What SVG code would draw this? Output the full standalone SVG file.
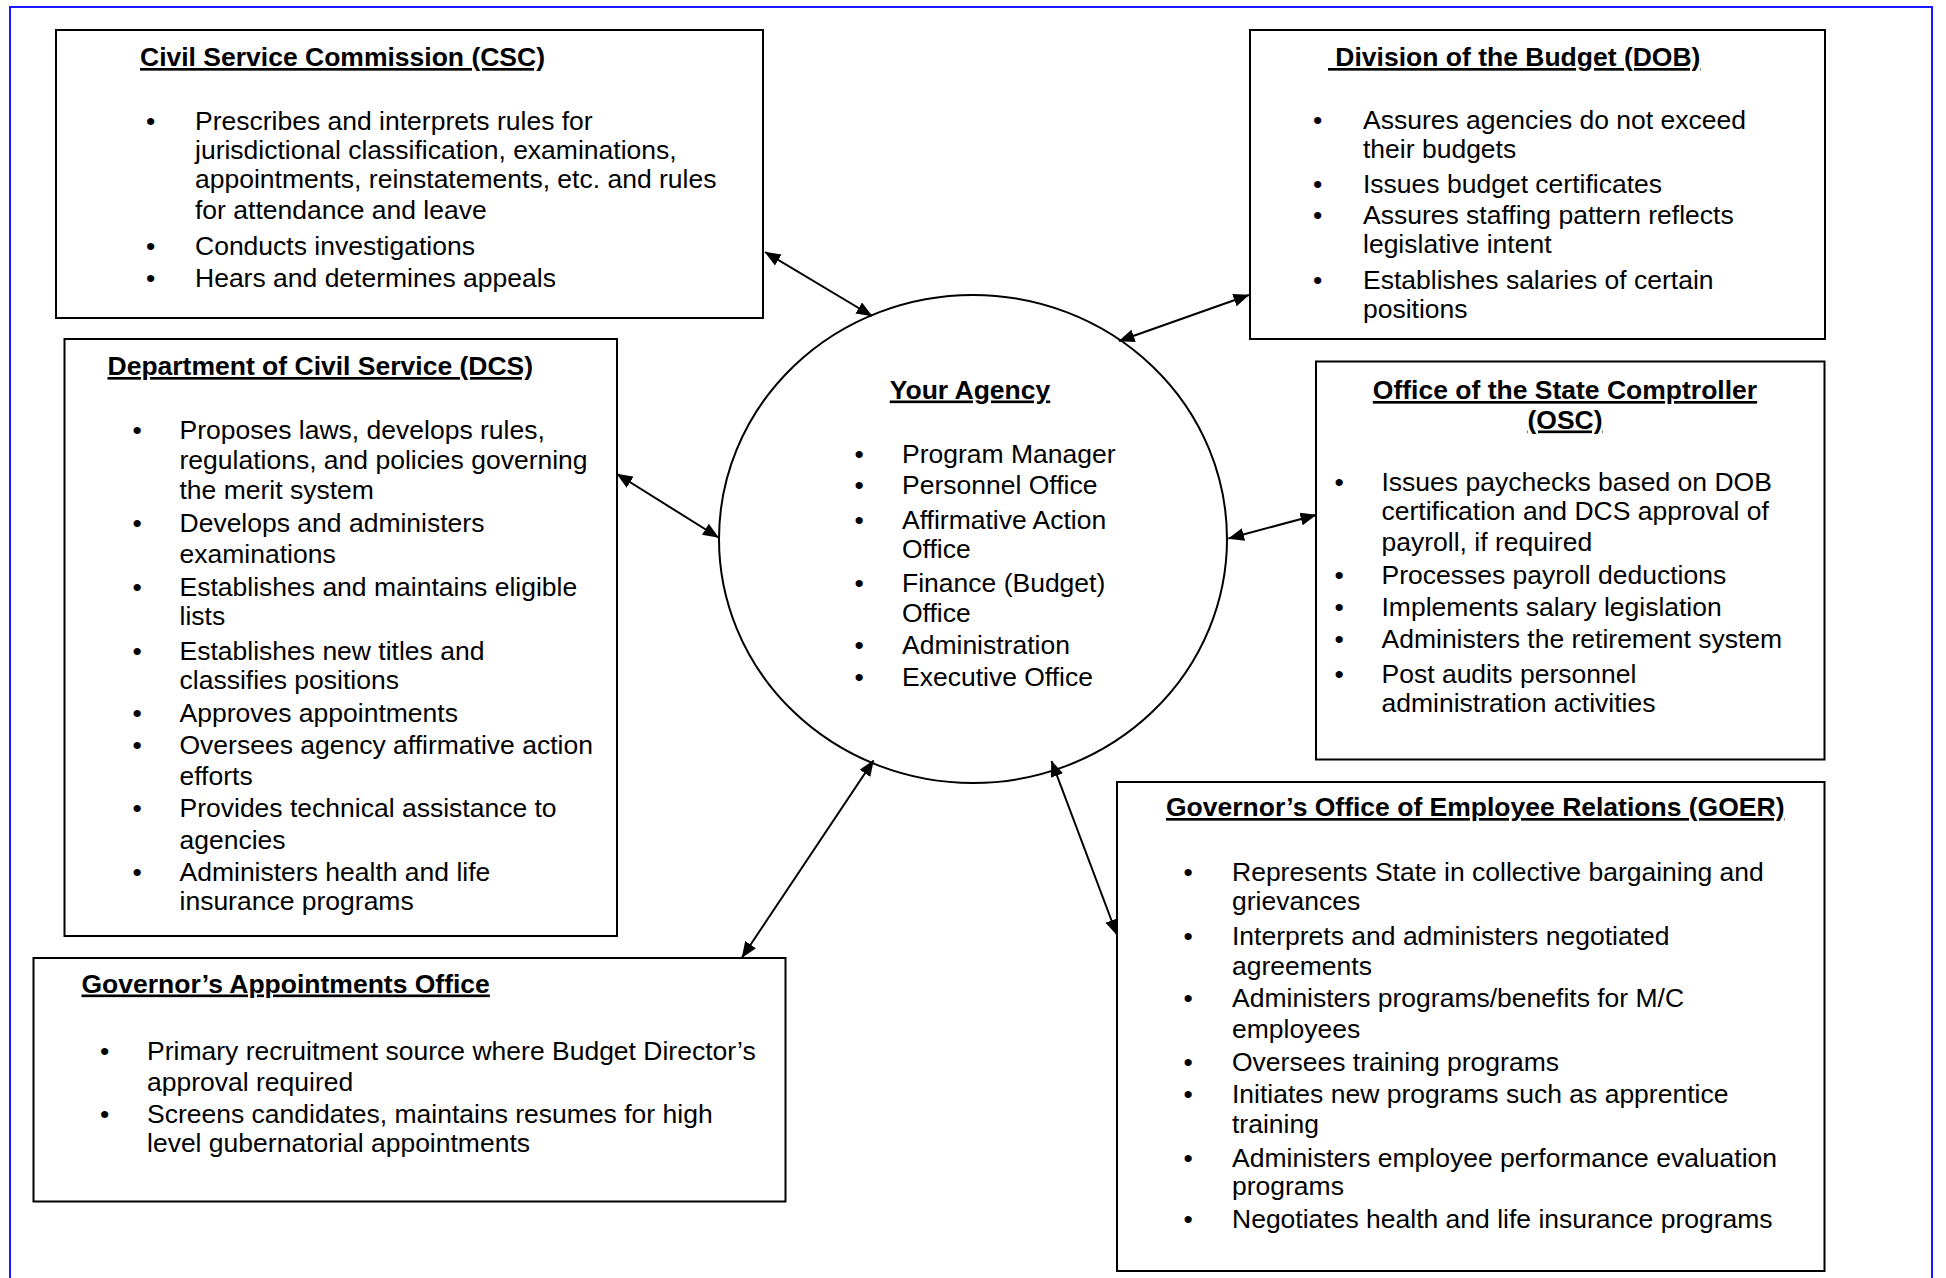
<svg xmlns="http://www.w3.org/2000/svg" width="1946" height="1278" viewBox="0 0 1946 1278">
<defs>
<marker id="ah" viewBox="0 0 16 13" refX="15.5" refY="6.5" markerWidth="16" markerHeight="13" markerUnits="userSpaceOnUse" orient="auto-start-reverse">
<path d="M0,0 L16,6.5 L0,13 z" fill="#000"/>
</marker>
<style>
text{font-family:"Liberation Sans",Arial,sans-serif;font-size:26.5px;fill:#000}
.t{font-weight:bold;text-decoration:underline}
.box{fill:#fff;stroke:#000;stroke-width:2}
.c{stroke:#000;stroke-width:2;fill:none;marker-start:url(#ah);marker-end:url(#ah)}
</style>
</defs>
<rect width="1946" height="1278" fill="#fff"/>
<path d="M10,1278 V7 H1932 V1278" fill="none" stroke="#1a1aff" stroke-width="2"/>

<g id="csc">
<rect class="box" x="56" y="30" width="707" height="288"/>
<text class="t" x="140" y="66">Civil Service Commission (CSC)</text>
<text x="146" y="129.5">•</text><text x="195" y="129.5">Prescribes and interprets rules for</text>
<text x="195" y="158.5">jurisdictional classification, examinations,</text>
<text x="195" y="188">appointments, reinstatements, etc. and rules</text>
<text x="195" y="218.5">for attendance and leave</text>
<text x="146" y="254.5">•</text><text x="195" y="254.5">Conducts investigations</text>
<text x="146" y="286.5">•</text><text x="195" y="286.5">Hears and determines appeals</text>
</g>

<g id="dob">
<rect class="box" x="1250" y="30" width="575" height="309"/>
<text class="t" x="1328" y="66">&#160;Division of the Budget (DOB)</text>
<text x="1313" y="128.5">•</text><text x="1363" y="128.5">Assures agencies do not exceed</text>
<text x="1363" y="157.5">their budgets</text>
<text x="1313" y="193">•</text><text x="1363" y="193">Issues budget certificates</text>
<text x="1313" y="224">•</text><text x="1363" y="224">Assures staffing pattern reflects</text>
<text x="1363" y="253">legislative intent</text>
<text x="1313" y="288.5">•</text><text x="1363" y="288.5">Establishes salaries of certain</text>
<text x="1363" y="318">positions</text>
</g>

<g id="dcs">
<rect class="box" x="64.5" y="339" width="552.5" height="597"/>
<text class="t" x="107.5" y="375">Department of Civil Service (DCS)</text>
<text x="132.5" y="438.7">•</text><text x="179.5" y="438.7">Proposes laws, develops rules,</text>
<text x="179.5" y="469">regulations, and policies governing</text>
<text x="179.5" y="499.3">the merit system</text>
<text x="132.5" y="532">•</text><text x="179.5" y="532">Develops and administers</text>
<text x="179.5" y="563">examinations</text>
<text x="132.5" y="596.2">•</text><text x="179.5" y="596.2">Establishes and maintains eligible</text>
<text x="179.5" y="625.4">lists</text>
<text x="132.5" y="659.8">•</text><text x="179.5" y="659.8">Establishes new titles and</text>
<text x="179.5" y="688.7">classifies positions</text>
<text x="132.5" y="721.6">•</text><text x="179.5" y="721.6">Approves appointments</text>
<text x="132.5" y="753.5">•</text><text x="179.5" y="753.5">Oversees agency affirmative action</text>
<text x="179.5" y="784.5">efforts</text>
<text x="132.5" y="816.6">•</text><text x="179.5" y="816.6">Provides technical assistance to</text>
<text x="179.5" y="848.7">agencies</text>
<text x="132.5" y="881.4">•</text><text x="179.5" y="881.4">Administers health and life</text>
<text x="179.5" y="910.3">insurance programs</text>
</g>

<g id="agency">
<ellipse cx="973" cy="539" rx="254" ry="244" fill="#fff" stroke="#000" stroke-width="2"/>
<text class="t" x="970" y="398.5" text-anchor="middle">Your Agency</text>
<text x="854.5" y="462.6">•</text><text x="902" y="462.6">Program Manager</text>
<text x="854.5" y="494">•</text><text x="902" y="494">Personnel Office</text>
<text x="854.5" y="528.7">•</text><text x="902" y="528.7">Affirmative Action</text>
<text x="902" y="558">Office</text>
<text x="854.5" y="591.7">•</text><text x="902" y="591.7">Finance (Budget)</text>
<text x="902" y="622.2">Office</text>
<text x="854.5" y="654.4">•</text><text x="902" y="654.4">Administration</text>
<text x="854.5" y="686">•</text><text x="902" y="686">Executive Office</text>
</g>

<g id="osc">
<rect class="box" x="1316" y="361.5" width="508.5" height="398"/>
<text class="t" x="1565" y="399" text-anchor="middle">Office of the State Comptroller</text>
<text class="t" x="1565" y="428.5" text-anchor="middle">(OSC)</text>
<text x="1334.5" y="491">•</text><text x="1381.5" y="491">Issues paychecks based on DOB</text>
<text x="1381.5" y="520">certification and DCS approval of</text>
<text x="1381.5" y="551">payroll, if required</text>
<text x="1334.5" y="583.5">•</text><text x="1381.5" y="583.5">Processes payroll deductions</text>
<text x="1334.5" y="615.5">•</text><text x="1381.5" y="615.5">Implements salary legislation</text>
<text x="1334.5" y="647.5">•</text><text x="1381.5" y="647.5">Administers the retirement system</text>
<text x="1334.5" y="682.5">•</text><text x="1381.5" y="682.5">Post audits personnel</text>
<text x="1381.5" y="712">administration activities</text>
</g>

<g id="gao">
<rect class="box" x="33.5" y="958" width="752" height="243.5"/>
<text class="t" x="81.5" y="992.5">Governor’s Appointments Office</text>
<text x="100" y="1060">•</text><text x="147" y="1060">Primary recruitment source where Budget Director’s</text>
<text x="147" y="1091">approval required</text>
<text x="100" y="1123">•</text><text x="147" y="1123">Screens candidates, maintains resumes for high</text>
<text x="147" y="1151.5">level gubernatorial appointments</text>
</g>

<g id="goer">
<rect class="box" x="1117" y="782" width="707.5" height="489"/>
<text class="t" x="1166" y="816">Governor’s Office of Employee Relations (GOER)</text>
<text x="1183.5" y="881">•</text><text x="1232" y="881">Represents State in collective bargaining and</text>
<text x="1232" y="910">grievances</text>
<text x="1183.5" y="945">•</text><text x="1232" y="945">Interprets and administers negotiated</text>
<text x="1232" y="974.5">agreements</text>
<text x="1183.5" y="1007">•</text><text x="1232" y="1007">Administers programs/benefits for M/C</text>
<text x="1232" y="1038">employees</text>
<text x="1183.5" y="1071">•</text><text x="1232" y="1071">Oversees training programs</text>
<text x="1183.5" y="1103">•</text><text x="1232" y="1103">Initiates new programs such as apprentice</text>
<text x="1232" y="1133">training</text>
<text x="1183.5" y="1167">•</text><text x="1232" y="1167">Administers employee performance evaluation</text>
<text x="1232" y="1195">programs</text>
<text x="1183.5" y="1227.5">•</text><text x="1232" y="1227.5">Negotiates health and life insurance programs</text>
</g>

<g id="connectors">
<line class="c" x1="765" y1="252" x2="872" y2="316"/>
<line class="c" x1="1119" y1="341" x2="1249" y2="295"/>
<line class="c" x1="617" y1="474" x2="718.5" y2="537.5"/>
<line class="c" x1="1228.5" y1="538.5" x2="1316" y2="515"/>
<line class="c" x1="742" y1="957.5" x2="873.5" y2="760.5"/>
<line class="c" x1="1051.5" y1="761" x2="1117" y2="935"/>
</g>
</svg>
